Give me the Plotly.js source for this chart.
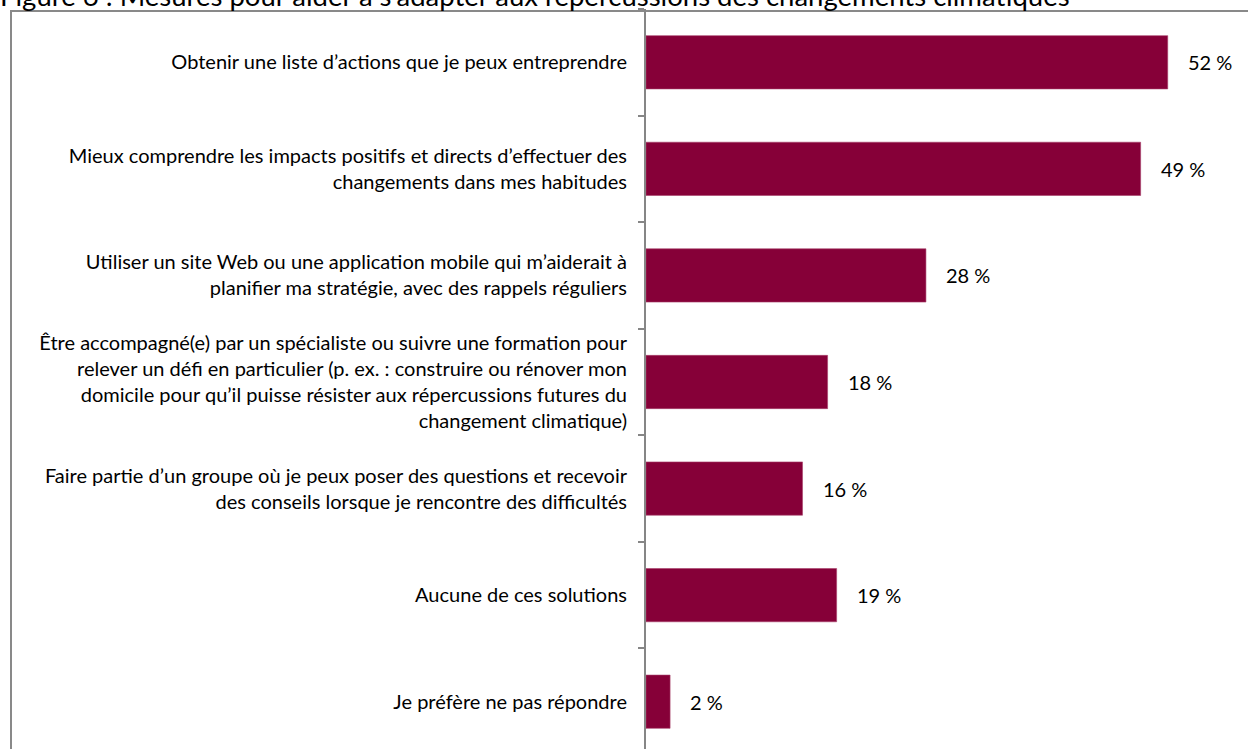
<!DOCTYPE html>
<html>
<head>
<meta charset="utf-8">
<script src="https://cdn.plot.ly/plotly-3.0.1.min.js"></script>
<style>
  html, body { margin: 0; padding: 0; background: #ffffff; width: 1248px; height: 749px; overflow: hidden; position: relative; }
  #frame { position: absolute; left: 10px; top: 10px; width: 1400px; height: 900px; border-left: 2px solid #898989; border-top: 2px solid #898989; box-sizing: border-box; }
  #chart { position: absolute; left: 0px; top: -30px; width: 1300px; height: 830px; }
</style>
</head>
<body>
<div id="frame"></div>
<div id="chart"></div>
<script>
// Data
const titleText = "Figure 6 : Mesures pour aider à s’adapter aux répercussions des changements climatiques";
const categories = [
  "Obtenir une liste d’actions que je peux entreprendre",
  "Mieux comprendre les impacts positifs et directs d’effectuer des<br>changements dans mes habitudes",
  "Utiliser un site Web ou une application mobile qui m’aiderait à<br>planifier ma stratégie, avec des rappels réguliers",
  "Être accompagné(e) par un spécialiste ou suivre une formation pour<br>relever un défi en particulier (p. ex. : construire ou rénover mon<br>domicile pour qu’il puisse résister aux répercussions futures du<br>changement climatique)",
  "Faire partie d’un groupe où je peux poser des questions et recevoir<br>des conseils lorsque je rencontre des difficultés",
  "Aucune de ces solutions",
  "Je préfère ne pas répondre"
];
const shares = [52.0, 49.3, 27.9, 18.1, 15.6, 19.0, 2.4];
const valueLabels = ["52 %", "49 %", "28 %", "18 %", "16 %", "19 %", "2 %"];

const barColor = "#860038";
const textFont = { family: "Lato, 'Noto Sans', sans-serif", size: 20, color: "#000000" };

const trace = {
  type: "bar",
  orientation: "h",
  x: shares,
  y: categories,
  marker: { color: barColor, line: { color: "#a8406a", width: 0.6 } },
  hoverinfo: "none"
};

const annotations = shares.map((v, i) => ({
  x: v,
  y: categories[i],
  xref: "x",
  yref: "y",
  text: valueLabels[i],
  showarrow: false,
  xanchor: "left",
  yanchor: "middle",
  xshift: 18,
  font: textFont
}));

const layout = {
  width: 1300,
  height: 830,
  margin: { l: 646, r: 52, t: 39, b: 45, pad: 0 },
  paper_bgcolor: "rgba(0,0,0,0)",
  plot_bgcolor: "rgba(0,0,0,0)",
  showlegend: false,
  bargap: 0.5,
  title: {
    text: titleText,
    font: { family: "Lato, 'Noto Sans', sans-serif", size: 27.5, color: "#000000" },
    xref: "container",
    yref: "container",
    x: 0,
    xanchor: "left",
    y: 0.9686,
    yanchor: "middle"
  },
  xaxis: {
    range: [0, 60],
    showgrid: false,
    zeroline: false,
    showline: false,
    showticklabels: false,
    ticks: "",
    fixedrange: true
  },
  yaxis: {
    type: "category",
    categoryorder: "array",
    categoryarray: categories,
    range: [6.5, -0.5],
    showline: true,
    linecolor: "#868686",
    linewidth: 2,
    ticks: "outside",
    tickson: "boundaries",
    ticklen: 6,
    tickwidth: 2,
    tickcolor: "#868686",
    ticklabelstandoff: 13,
    showgrid: false,
    zeroline: false,
    tickfont: textFont,
    fixedrange: true
  },
  annotations: annotations
};

Plotly.newPlot("chart", [trace], layout, { displayModeBar: false, staticPlot: true });
</script>
</body>
</html>
